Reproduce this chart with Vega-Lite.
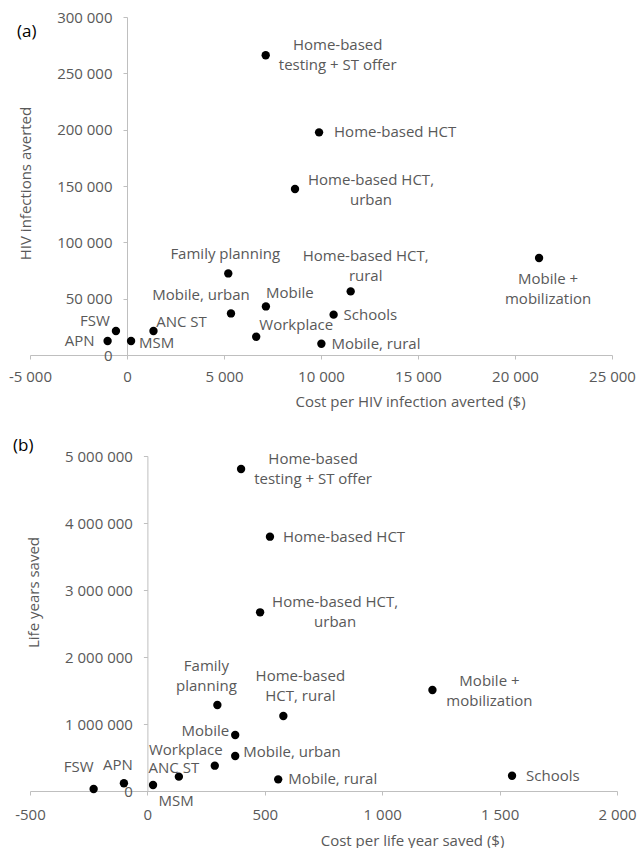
{
  "$schema": "https://vega.github.io/schema/vega-lite/v6.json",
  "padding": {"left": 8, "top": 10, "right": 5, "bottom": 0},
  "background": "white",
  "bounds": "flush",
  "spacing": 101,
  "datasets": {
    "a": [
      {"name": "Home-based testing + ST offer", "x": 7150, "y": 266000, "label": "Home-based\ntesting + ST offer"},
      {"name": "Home-based HCT", "x": 9900, "y": 197600, "label": "Home-based HCT"},
      {"name": "Home-based HCT, urban", "x": 8660, "y": 147300, "label": "Home-based HCT,\nurban"},
      {"name": "Family planning", "x": 5220, "y": 72400, "label": "Family planning"},
      {"name": "Mobile, urban", "x": 5360, "y": 36900, "label": "Mobile, urban"},
      {"name": "Mobile", "x": 7160, "y": 43100, "label": "Mobile"},
      {"name": "Home-based HCT, rural", "x": 11530, "y": 56450, "label": "Home-based HCT,\nrural"},
      {"name": "Schools", "x": 10650, "y": 35800, "label": "Schools"},
      {"name": "Workplace", "x": 6660, "y": 16200, "label": "Workplace"},
      {"name": "Mobile, rural", "x": 10020, "y": 10000, "label": "Mobile, rural"},
      {"name": "ANC ST", "x": 1365, "y": 21300, "label": "ANC ST"},
      {"name": "MSM", "x": 210, "y": 12400, "label": "MSM"},
      {"name": "FSW", "x": -570, "y": 21300, "label": "FSW"},
      {"name": "APN", "x": -1000, "y": 12400, "label": "APN"},
      {"name": "Mobile + mobilization", "x": 21240, "y": 86100, "label": "Mobile +\nmobilization"}
    ],
    "b": [
      {"name": "Home-based testing + ST offer", "x": 399, "y": 4806000, "label": "Home-based\ntesting + ST offer"},
      {"name": "Home-based HCT", "x": 522, "y": 3796000, "label": "Home-based HCT"},
      {"name": "Home-based HCT, urban", "x": 480, "y": 2667000, "label": "Home-based HCT,\nurban"},
      {"name": "Family planning", "x": 298, "y": 1284000, "label": "Family\nplanning"},
      {"name": "Home-based HCT, rural", "x": 579, "y": 1119000, "label": "Home-based\nHCT, rural"},
      {"name": "Mobile", "x": 374, "y": 836000, "label": "Mobile"},
      {"name": "Mobile, urban", "x": 374, "y": 522000, "label": "Mobile, urban"},
      {"name": "Workplace", "x": 287, "y": 378000, "label": "Workplace"},
      {"name": "ANC ST", "x": 134, "y": 214000, "label": "ANC ST"},
      {"name": "MSM", "x": 24, "y": 90000, "label": "MSM"},
      {"name": "Mobile, rural", "x": 557, "y": 174000, "label": "Mobile, rural"},
      {"name": "APN", "x": -100, "y": 115000, "label": "APN"},
      {"name": "FSW", "x": -229, "y": 30000, "label": "FSW"},
      {"name": "Mobile + mobilization", "x": 1214, "y": 1507000, "label": "Mobile +\nmobilization"},
      {"name": "Schools", "x": 1553, "y": 228000, "label": "Schools"}
    ]
  },
  "vconcat": [
    {
      "width": 582,
      "height": 338,
      "title": {"text": "(a)", "anchor": "start", "frame": "group", "orient": "top", "offset": 0, "dx": -13, "dy": 39, "baseline": "middle"},
      "data": {"name": "a"},
      "encoding": {
        "x": {
          "field": "x", "type": "quantitative",
          "scale": {"domain": [-5000, 25000], "nice": false, "zero": false},
          "axis": {"values": [-5000, 0, 5000, 10000, 15000, 20000, 25000], "format": ",d", "title": "Cost per HIV infection averted ($)", "titleX": 380, "titleY": 51, "titleBaseline": "alphabetic", "titleAlign": "center", "labelBaseline": "alphabetic", "labelPadding": 22.5}
        },
        "y": {
          "field": "y", "type": "quantitative",
          "scale": {"domain": [0, 300000], "nice": false, "zero": false},
          "axis": {"offset": -97, "values": [0, 50000, 100000, 150000, 200000, 250000, 300000], "format": ",d", "title": "HIV infections averted", "titleX": -102, "titleY": 166, "titleAngle": -90, "titleBaseline": "middle", "titleAlign": "center"}
        }
      },
      "layer": [
        {"mark": {"type": "circle", "size": 70, "color": "black", "opacity": 1}},
        {
          "encoding": {"text": {"field": "label", "type": "nominal"}},
          "layer": [
            {"transform": [{"filter": "datum.name === 'Home-based testing + ST offer'"}], "mark": {"type": "text", "align": "center", "dx": 72, "dy": -10}},
            {"transform": [{"filter": "datum.name === 'Home-based HCT'"}], "mark": {"type": "text", "align": "left", "dx": 15, "dy": 0}},
            {"transform": [{"filter": "datum.name === 'Home-based HCT, urban'"}], "mark": {"type": "text", "align": "center", "dx": 76, "dy": -9}},
            {"transform": [{"filter": "datum.name === 'Family planning'"}], "mark": {"type": "text", "align": "center", "dx": -3, "dy": -19}},
            {"transform": [{"filter": "datum.name === 'Mobile, urban'"}], "mark": {"type": "text", "align": "center", "dx": -30, "dy": -18}},
            {"transform": [{"filter": "datum.name === 'Mobile'"}], "mark": {"type": "text", "align": "center", "dx": 24, "dy": -13}},
            {"transform": [{"filter": "datum.name === 'Home-based HCT, rural'"}], "mark": {"type": "text", "align": "center", "dx": 15, "dy": -35}},
            {"transform": [{"filter": "datum.name === 'Schools'"}], "mark": {"type": "text", "align": "left", "dx": 10, "dy": 0}},
            {"transform": [{"filter": "datum.name === 'Workplace'"}], "mark": {"type": "text", "align": "center", "dx": 40, "dy": -12}},
            {"transform": [{"filter": "datum.name === 'Mobile, rural'"}], "mark": {"type": "text", "align": "left", "dx": 10, "dy": 0}},
            {"transform": [{"filter": "datum.name === 'ANC ST'"}], "mark": {"type": "text", "align": "center", "dx": 28, "dy": -9}},
            {"transform": [{"filter": "datum.name === 'MSM'"}], "mark": {"type": "text", "align": "left", "dx": 8, "dy": 2}},
            {"transform": [{"filter": "datum.name === 'FSW'"}], "mark": {"type": "text", "align": "right", "dx": -6, "dy": -10}},
            {"transform": [{"filter": "datum.name === 'APN'"}], "mark": {"type": "text", "align": "right", "dx": -13, "dy": 0}},
            {"transform": [{"filter": "datum.name === 'Mobile + mobilization'"}], "mark": {"type": "text", "align": "center", "dx": 9, "dy": 21}}
          ]
        }
      ]
    },
    {
      "width": 587,
      "height": 335,
      "title": {"text": "(b)", "anchor": "start", "frame": "group", "orient": "top", "offset": 0, "dx": -17, "dy": 13.5, "baseline": "middle"},
      "data": {"name": "b"},
      "encoding": {
        "x": {
          "field": "x", "type": "quantitative",
          "scale": {"domain": [-500, 2000], "nice": false, "zero": false},
          "axis": {"values": [-500, 0, 500, 1000, 1500, 2000], "format": ",d", "title": "Cost per life year saved ($)", "titleX": 382, "titleY": 54, "titleBaseline": "alphabetic", "titleAlign": "center", "labelBaseline": "alphabetic", "labelPadding": 24}
        },
        "y": {
          "field": "y", "type": "quantitative",
          "scale": {"domain": [0, 5000000], "nice": false, "zero": false},
          "axis": {"offset": -117.4, "values": [0, 1000000, 2000000, 3000000, 4000000, 5000000], "format": ",d", "title": "Life years saved", "titleX": -114, "titleY": 136, "titleAngle": -90, "titleBaseline": "middle", "titleAlign": "center"}
        }
      },
      "layer": [
        {"mark": {"type": "circle", "size": 70, "color": "black", "opacity": 1}},
        {
          "encoding": {"text": {"field": "label", "type": "nominal"}},
          "layer": [
            {"transform": [{"filter": "datum.name === 'Home-based testing + ST offer'"}], "mark": {"type": "text", "align": "center", "dx": 72, "dy": -10}},
            {"transform": [{"filter": "datum.name === 'Home-based HCT'"}], "mark": {"type": "text", "align": "left", "dx": 13, "dy": 0}},
            {"transform": [{"filter": "datum.name === 'Home-based HCT, urban'"}], "mark": {"type": "text", "align": "center", "dx": 75, "dy": -10}},
            {"transform": [{"filter": "datum.name === 'Family planning'"}], "mark": {"type": "text", "align": "center", "dx": -11, "dy": -39}},
            {"transform": [{"filter": "datum.name === 'Home-based HCT, rural'"}], "mark": {"type": "text", "align": "center", "dx": 17, "dy": -40}},
            {"transform": [{"filter": "datum.name === 'Mobile'"}], "mark": {"type": "text", "align": "right", "dx": -6, "dy": -4}},
            {"transform": [{"filter": "datum.name === 'Mobile, urban'"}], "mark": {"type": "text", "align": "left", "dx": 8, "dy": -4}},
            {"transform": [{"filter": "datum.name === 'Workplace'"}], "mark": {"type": "text", "align": "center", "dx": -29, "dy": -16}},
            {"transform": [{"filter": "datum.name === 'ANC ST'"}], "mark": {"type": "text", "align": "center", "dx": -5, "dy": -9}},
            {"transform": [{"filter": "datum.name === 'MSM'"}], "mark": {"type": "text", "align": "center", "dx": 23, "dy": 16}},
            {"transform": [{"filter": "datum.name === 'Mobile, rural'"}], "mark": {"type": "text", "align": "left", "dx": 10, "dy": 0}},
            {"transform": [{"filter": "datum.name === 'APN'"}], "mark": {"type": "text", "align": "center", "dx": -6, "dy": -18}},
            {"transform": [{"filter": "datum.name === 'FSW'"}], "mark": {"type": "text", "align": "center", "dx": -15, "dy": -22}},
            {"transform": [{"filter": "datum.name === 'Mobile + mobilization'"}], "mark": {"type": "text", "align": "center", "dx": 57, "dy": -9}},
            {"transform": [{"filter": "datum.name === 'Schools'"}], "mark": {"type": "text", "align": "left", "dx": 14, "dy": 0}}
          ]
        }
      ]
    }
  ],
  "config": {
    "view": {"stroke": null},
    "locale": {"number": {"decimal": ".", "thousands": " ", "grouping": [3], "currency": ["$", ""], "minus": "-"}},
    "axis": {
      "grid": false,
      "domainColor": "#BFBFBF",
      "tickColor": "#BFBFBF",
      "tickSize": 4,
      "labelColor": "#595959",
      "labelFont": "Open Sans",
      "labelFontSize": 15,
      "labelPadding": 11,
      "labelFlush": false,
      "titleColor": "#595959",
      "titleFont": "Open Sans",
      "titleFontSize": 15,
      "titleFontWeight": "normal"
    },
    "text": {"font": "Open Sans", "fontSize": 15, "color": "#595959", "baseline": "middle", "lineBreak": "\n", "lineHeight": 20},
    "title": {"font": "Open Sans", "fontSize": 17, "fontWeight": "normal", "color": "#000000"}
  }
}
